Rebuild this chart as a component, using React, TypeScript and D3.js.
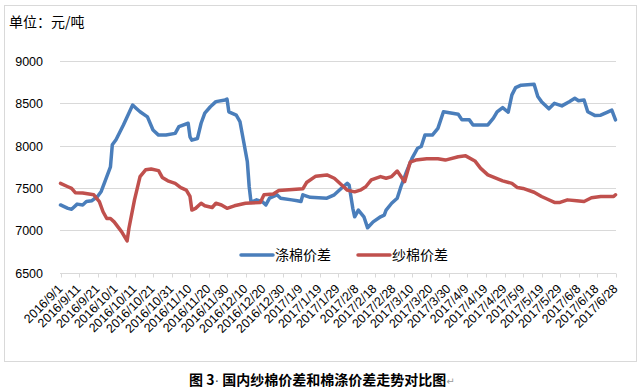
import React, { useEffect, useRef } from "react";
import * as d3 from "d3";

// 涤棉价差 (blue)
const polyDates = [
  "2016/9/1", "2016/9/5", "2016/9/7", "2016/9/10", "2016/9/13", "2016/9/15", "2016/9/18",
  "2016/9/21", "2016/9/23", "2016/9/25", "2016/9/28", "2016/9/29", "2016/10/1", "2016/10/5",
  "2016/10/10", "2016/10/12", "2016/10/14", "2016/10/18", "2016/10/21", "2016/10/24",
  "2016/10/28", "2016/11/2", "2016/11/4", "2016/11/9", "2016/11/10", "2016/11/11",
  "2016/11/14", "2016/11/16", "2016/11/18", "2016/11/21", "2016/11/24", "2016/11/29",
  "2016/11/30", "2016/12/1", "2016/12/5", "2016/12/7", "2016/12/9", "2016/12/11",
  "2016/12/12", "2016/12/13", "2016/12/16", "2016/12/19", "2016/12/21", "2016/12/23",
  "2016/12/27", "2016/12/29", "2017/1/4", "2017/1/7", "2017/1/9", "2017/1/10", "2017/1/14",
  "2017/1/23", "2017/1/27", "2017/1/31", "2017/2/3", "2017/2/4", "2017/2/6", "2017/2/7",
  "2017/2/9", "2017/2/12", "2017/2/14", "2017/2/17", "2017/2/21", "2017/2/23", "2017/2/24",
  "2017/2/27", "2017/3/2", "2017/3/4", "2017/3/7", "2017/3/10", "2017/3/13", "2017/3/15",
  "2017/3/17", "2017/3/21", "2017/3/24", "2017/3/27", "2017/3/31", "2017/4/4", "2017/4/6",
  "2017/4/10", "2017/4/12", "2017/4/20", "2017/4/23", "2017/4/25", "2017/4/28", "2017/5/1",
  "2017/5/3", "2017/5/5", "2017/5/8", "2017/5/15", "2017/5/17", "2017/5/19", "2017/5/23",
  "2017/5/26", "2017/5/30", "2017/6/3", "2017/6/6", "2017/6/8", "2017/6/11", "2017/6/13",
  "2017/6/17", "2017/6/20", "2017/6/24", "2017/6/26", "2017/6/28",
];
const polyValues = [
  7300, 7260, 7250, 7310, 7300, 7340, 7350,
  7400, 7460, 7575, 7750, 8010, 8070, 8245,
  8480, 8440, 8400, 8340, 8185, 8125,
  8125, 8145, 8225, 8265, 8105, 8065,
  8085, 8265, 8385, 8460, 8520, 8540,
  8550, 8400, 8360, 8285, 8050, 7810,
  7515, 7330, 7360, 7340, 7300, 7380,
  7420, 7380, 7360, 7350, 7340, 7420, 7390,
  7380, 7420, 7500, 7555, 7535, 7260, 7160,
  7240, 7160, 7030, 7100, 7160, 7180, 7240,
  7320, 7380, 7515, 7690, 7850, 7970, 7990,
  8125, 8125, 8205, 8400, 8385, 8370, 8305,
  8305, 8245, 8245, 8325, 8400, 8450, 8395,
  8600, 8685, 8715, 8725, 8580, 8520, 8435,
  8500, 8470, 8520, 8560, 8530, 8540, 8400,
  8355, 8360, 8400, 8420, 8305,
];

// 纱棉价差 (red)
const yarnDates = [
  "2016/9/1", "2016/9/5", "2016/9/7", "2016/9/9", "2016/9/13", "2016/9/19", "2016/9/22",
  "2016/9/24", "2016/9/26", "2016/9/28", "2016/9/30", "2016/10/4", "2016/10/7", "2016/10/8",
  "2016/10/11", "2016/10/14", "2016/10/17", "2016/10/20", "2016/10/24", "2016/10/26",
  "2016/10/29", "2016/11/2", "2016/11/5", "2016/11/8", "2016/11/10", "2016/11/11",
  "2016/11/13", "2016/11/16", "2016/11/18", "2016/11/22", "2016/11/24", "2016/11/27",
  "2016/11/30", "2016/12/4", "2016/12/10", "2016/12/18", "2016/12/20", "2016/12/25",
  "2016/12/28", "2017/1/10", "2017/1/12", "2017/1/17", "2017/1/23", "2017/1/27", "2017/1/31",
  "2017/2/3", "2017/2/7", "2017/2/10", "2017/2/13", "2017/2/16", "2017/2/21", "2017/2/24",
  "2017/2/27", "2017/3/2", "2017/3/6", "2017/3/9", "2017/3/12", "2017/3/18", "2017/3/24",
  "2017/3/28", "2017/4/4", "2017/4/8", "2017/4/13", "2017/4/16", "2017/4/20", "2017/4/28",
  "2017/5/3", "2017/5/6", "2017/5/9", "2017/5/15", "2017/5/19", "2017/5/22", "2017/5/26",
  "2017/5/29", "2017/6/2", "2017/6/7", "2017/6/11", "2017/6/15", "2017/6/20", "2017/6/27",
  "2017/6/28",
];
const yarnValues = [
  7555, 7515, 7495, 7445, 7440, 7420, 7340,
  7220, 7140, 7140, 7100, 6985, 6875, 7025,
  7360, 7635, 7715, 7725, 7705, 7625,
  7585, 7555, 7505, 7475, 7400, 7240,
  7260, 7320, 7290, 7270, 7320, 7300,
  7260, 7290, 7320, 7330, 7420, 7430,
  7470, 7490, 7565, 7640, 7655, 7615, 7535,
  7475, 7455, 7475, 7515, 7595, 7635, 7615,
  7635, 7700, 7575, 7805, 7830, 7845, 7845,
  7830, 7870, 7880, 7820, 7735, 7655, 7585,
  7555, 7505, 7495, 7450, 7400, 7370, 7330,
  7330, 7360, 7350, 7340, 7385, 7400, 7400,
  7420,
];

const xTickLabels = [
  "2016/9/1", "2016/9/11", "2016/9/21", "2016/10/1", "2016/10/11", "2016/10/21",
  "2016/10/31", "2016/11/10", "2016/11/20", "2016/11/30", "2016/12/10", "2016/12/20",
  "2016/12/30", "2017/1/9", "2017/1/19", "2017/1/29", "2017/2/8", "2017/2/18",
  "2017/2/28", "2017/3/10", "2017/3/20", "2017/3/30", "2017/4/9", "2017/4/19",
  "2017/4/29", "2017/5/9", "2017/5/19", "2017/5/29", "2017/6/8", "2017/6/18", "2017/6/28",
];
const yTicks = [6500, 7000, 7500, 8000, 8500, 9000];

const seriesNames = ["涤棉价差", "纱棉价差"];
const seriesColors = ["#4A7EBB", "#C0504D"];

const W = 643;
const H = 389;

const App: React.FC = () => {
  const svgRef = useRef<SVGSVGElement>(null);

  useEffect(() => {
    if (!svgRef.current) return;
    const svg = d3.select(svgRef.current);
    svg.selectAll("*").remove();

    const parse = d3.timeParse("%Y/%m/%d");
    const font = "'Liberation Sans', Arial, sans-serif";
    const cjk = "'Noto Sans CJK SC', sans-serif";

    const x = d3.scaleTime()
      .domain([parse("2016/9/1")!, parse("2017/6/28")!])
      .range([60.5, 615.5]);
    const y = d3.scaleLinear().domain([6500, 9000]).range([272.7, 61]);

    // chart border
    svg.append("rect")
      .attr("x", 4.5).attr("y", 5.5)
      .attr("width", 632).attr("height", 356)
      .attr("fill", "#fff")
      .attr("stroke", "#D9D9D9");

    svg.append("text")
      .attr("x", 9).attr("y", 27)
      .attr("font-family", cjk)
      .attr("font-size", 14)
      .attr("fill", "#000")
      .text("单位：元/吨");

    // gridlines + y labels
    const g = svg.append("g");
    yTicks.forEach(t => {
      const yy = Math.round(y(t)) + 0.5;
      g.append("line")
        .attr("x1", 60).attr("x2", 616)
        .attr("y1", yy).attr("y2", yy)
        .attr("stroke", "#D9D9D9");
      g.append("text")
        .attr("x", 43).attr("y", yy + 4.5)
        .attr("text-anchor", "end")
        .attr("font-family", font)
        .attr("font-size", 12.5)
        .attr("fill", "#000")
        .text(t);
    });

    // x ticks + rotated labels
    const axisY = Math.round(y(6500)) + 0.5;
    xTickLabels.forEach(lbl => {
      const xx = Math.round(x(parse(lbl)!)) + 0.5;
      g.append("line")
        .attr("x1", xx).attr("x2", xx)
        .attr("y1", axisY).attr("y2", axisY + 4)
        .attr("stroke", "#D9D9D9");
      g.append("text")
        .attr("transform", `translate(${xx + 2},${axisY + 16}) rotate(-45)`)
        .attr("text-anchor", "end")
        .attr("font-family", font)
        .attr("font-size", 12.5)
        .attr("fill", "#000")
        .text(lbl);
    });

    // series lines
    const line = d3.line<[Date, number]>()
      .x(d => x(d[0]))
      .y(d => y(d[1]));

    const series = [
      polyDates.map((d, i) => [parse(d)!, polyValues[i]] as [Date, number]),
      yarnDates.map((d, i) => [parse(d)!, yarnValues[i]] as [Date, number]),
    ];

    series.forEach((s, i) => {
      svg.append("path")
        .datum(s)
        .attr("d", line)
        .attr("fill", "none")
        .attr("stroke", seriesColors[i])
        .attr("stroke-width", 3.5)
        .attr("stroke-linejoin", "round")
        .attr("stroke-linecap", "round");
    });

    // legend
    const legendX = [241, 358];
    seriesNames.forEach((name, i) => {
      svg.append("line")
        .attr("x1", legendX[i]).attr("x2", legendX[i] + 32)
        .attr("y1", 255).attr("y2", 255)
        .attr("stroke", seriesColors[i])
        .attr("stroke-width", 3.5)
        .attr("stroke-linecap", "round");
      svg.append("text")
        .attr("x", legendX[i] + 34).attr("y", 260)
        .attr("font-family", cjk)
        .attr("font-size", 14)
        .attr("fill", "#000")
        .text(name);
    });

    // caption
    const cap = svg.append("text")
      .attr("x", 189).attr("y", 385)
      .attr("font-family", cjk)
      .attr("font-size", 14)
      .attr("font-weight", "bold")
      .attr("fill", "#000");
    cap.append("tspan").text("图 3");
    cap.append("tspan")
      .attr("font-weight", "normal")
      .attr("fill", "#444")
      .attr("font-family", font)
      .text("·");
    cap.append("tspan").text(" 国内纱棉价差和棉涤价差走势对比图");
    cap.append("tspan")
      .attr("font-weight", "normal")
      .attr("font-size", 10)
      .attr("fill", "#999")
      .attr("font-family", "'DejaVu Sans', sans-serif")
      .text("↵");
  }, []);

  return (
    <svg
      ref={svgRef}
      width={W}
      height={H}
      style={{ position: "absolute", left: 0, top: 0, background: "#fff" }}
    />
  );
};

export default App;
